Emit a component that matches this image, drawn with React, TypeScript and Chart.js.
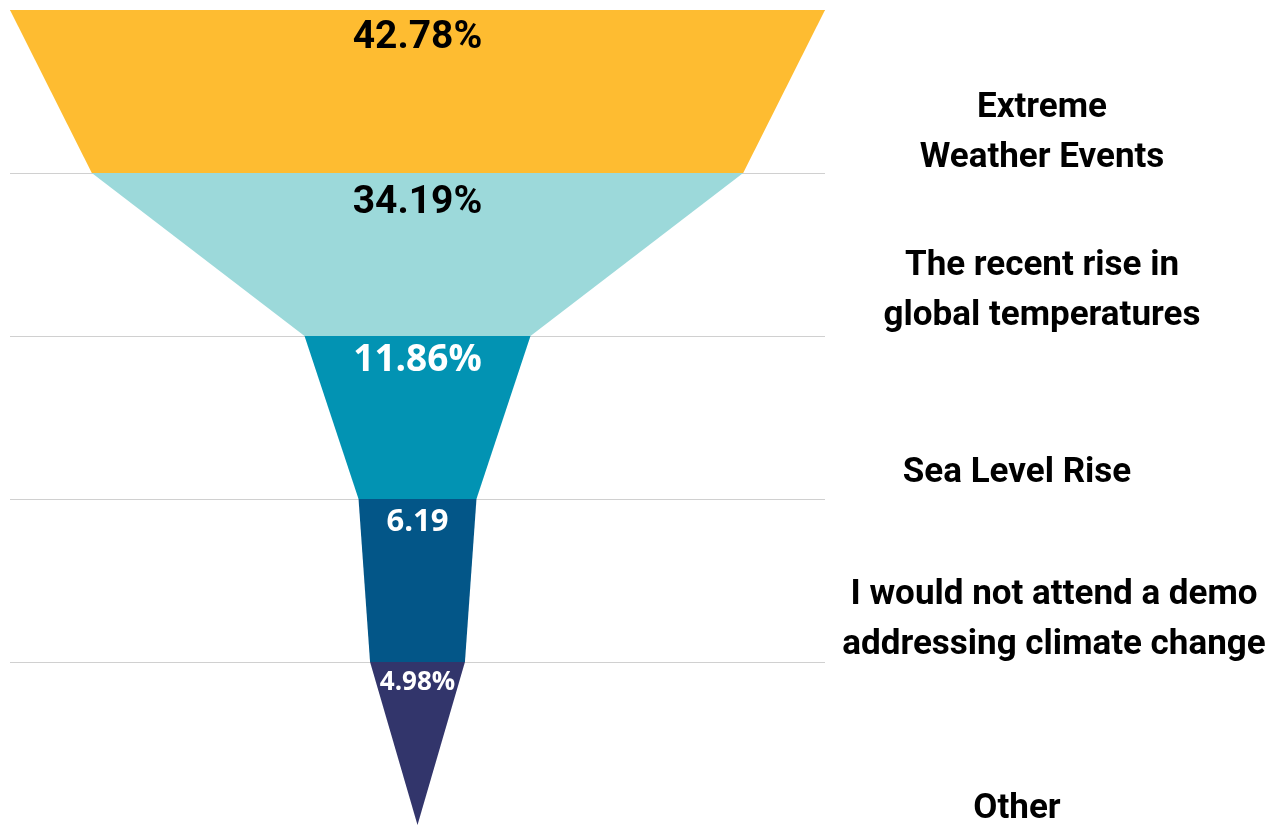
import { useEffect, useRef } from "react";
import { Chart, registerables } from "chart.js";

Chart.register(...registerables);

// ---- data ----
const categories: string[][] = [
  ["Extreme", "Weather Events"],
  ["The recent rise in", "global temperatures"],
  ["Sea Level Rise"],
  ["I would not attend a demo", "addressing climate change"],
  ["Other"],
];
const values = [42.78, 34.19, 11.86, 6.19, 4.98];
const valueLabels = ["42.78%", "34.19%", "11.86%", "6.19", "4.98%"];

// ---- styles / placement ----
const colors = ["#FEBC31", "#9CD9DA", "#0293B3", "#035688", "#32356B"];
const valueLabelColors = ["#000000", "#000000", "#ffffff", "#ffffff", "#ffffff"];
const valueFonts = [
  'bold 39px Roboto',
  'bold 39px Roboto',
  'bold 37px "Open Sans"',
  'bold 31px "Open Sans"',
  'bold 26px "Open Sans"',
];
const valueBaselineOffsets = [38, 40, 35, 32, 28];
const labelBaselines = [0.656, 1.626, 2.896, 3.644, 4.957];
const labelXOffsets = [217, 217, 192, 229, 192];
const labelFont = 'bold 35px Roboto';
const labelLineHeight = 50;

const textPlugin = {
  id: "funnelText",
  afterDatasetsDraw(chart: any) {
    const { ctx, scales, chartArea } = chart;
    const x = scales.x;
    const y = scales.y;
    ctx.save();
    ctx.textAlign = "center";
    ctx.textBaseline = "alphabetic";
    values.forEach((_, i) => {
      ctx.font = valueFonts[i];
      ctx.fillStyle = valueLabelColors[i];
      ctx.fillText(valueLabels[i], x.getPixelForValue(0), y.getPixelForValue(i) + valueBaselineOffsets[i]);
    });
    ctx.font = labelFont;
    ctx.fillStyle = "#000000";
    categories.forEach((lines, i) => {
      const cx = chartArea.right + labelXOffsets[i];
      const by = y.getPixelForValue(labelBaselines[i]);
      lines.forEach((line, j) => {
        ctx.fillText(line, cx, by + j * labelLineHeight);
      });
    });
    ctx.restore();
  },
};

export default function App() {
  const ref = useRef<HTMLCanvasElement | null>(null);
  useEffect(() => {
    if (!ref.current) return;
    const datasets = values.map((v, i) => {
      const n = i + 1 < values.length ? values[i + 1] : 0;
      return {
        type: "line" as const,
        label: categories[i].join(" "),
        data: [
          { x: -v / 2, y: i },
          { x: v / 2, y: i },
          { x: n / 2, y: i + 1 },
          { x: -n / 2, y: i + 1 },
        ],
        backgroundColor: colors[i],
        borderColor: "transparent",
        borderWidth: 0,
        pointRadius: 0,
        tension: 0,
        fill: "shape" as any,
      };
    });
    const chart = new Chart(ref.current, {
      type: "line",
      data: { datasets },
      options: {
        animation: false,
        responsive: false,
        layout: { padding: { left: 10, top: 10, right: 454, bottom: 0 } },
        plugins: { legend: { display: false }, tooltip: { enabled: false } },
        scales: {
          x: { type: "linear", min: -values[0] / 2, max: values[0] / 2, display: false },
          y: {
            type: "linear",
            min: 0,
            max: values.length,
            reverse: true,
            ticks: { display: false, stepSize: 1 },
            border: { display: false },
            grid: {
              drawTicks: false,
              color: (c: any) => (c.tick && c.tick.value === values.length ? "transparent" : "#d0d0d0"),
            },
          },
        },
      },
      plugins: [textPlugin],
    });
    return () => chart.destroy();
  }, []);
  return (
    <div style={{ position: "fixed", left: 0, top: 0, width: 1279, height: 825 }}>
      <canvas ref={ref} width={1279} height={825} style={{ display: "block" }} />
    </div>
  );
}
